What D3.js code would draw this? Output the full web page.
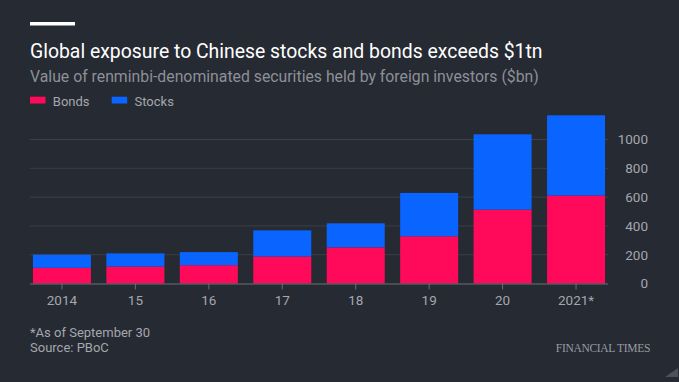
<!DOCTYPE html>
<html>
<head>
<meta charset="utf-8">
<script src="https://cdn.jsdelivr.net/npm/d3@7"></script>
<style>
  body { margin: 0; background: #262a33; }
  svg { display: block; }
</style>
</head>
<body>
<div id="chart"></div>
<script>
// Data ($bn)
const years = ["2014", "15", "16", "17", "18", "19", "20", "2021*"];
const bonds = [109, 118, 127, 188, 251, 328, 513, 611];
const stocks = [91, 91, 91, 181, 167, 301, 523, 557];
const yTicks = [0, 200, 400, 600, 800, 1000];

const width = 679, height = 382;
const bg = "#262a33";
const pink = "#ff0a5a";
const blue = "#0a64ff";
const font = "Roboto, sans-serif";
const grey = "#a4a7ad";

const svg = d3.select("#chart")
    .append("svg")
    .attr("width", width)
    .attr("height", height);

svg.append("rect").attr("width", width).attr("height", height).attr("fill", bg);

// Top rule
svg.append("rect").attr("x", 30).attr("y", 22).attr("width", 45).attr("height", 3.5).attr("fill", "#fff");

// Titles
svg.append("text")
    .attr("x", 30).attr("y", 57.5)
    .attr("fill", "#fff")
    .attr("font-family", font)
    .attr("font-size", 19.4)
    .text("Global exposure to Chinese stocks and bonds exceeds $1tn");

svg.append("text")
    .attr("x", 30).attr("y", 82)
    .attr("fill", "#8d9098")
    .attr("font-family", font)
    .attr("font-size", 15.8)
    .text("Value of renminbi-denominated securities held by foreign investors ($bn)");

// Legend
const legend = [{ name: "Bonds", color: pink, x: 30 }, { name: "Stocks", color: blue, x: 111.7 }];
const lg = svg.append("g").selectAll("g").data(legend).enter().append("g")
    .attr("transform", d => `translate(${d.x},96.7)`);
lg.append("rect").attr("width", 15.5).attr("height", 6.8).attr("fill", d => d.color);
lg.append("text")
    .attr("x", 22.8).attr("y", 9)
    .attr("fill", grey)
    .attr("font-family", font)
    .attr("font-size", 13)
    .text(d => d.name);

// Scales
const x = d3.scaleBand().domain(years).range([30, 608]).paddingInner(0.21).paddingOuter(0.04);
const y = d3.scaleLinear().domain([0, 1000]).range([283.5, 139.5]);

// Gridlines
svg.append("g").selectAll("line").data(yTicks.filter(t => t > 0)).enter().append("line")
    .attr("x1", 30).attr("x2", 608)
    .attr("y1", d => y(d)).attr("y2", d => y(d))
    .attr("stroke", "#3b3f48").attr("stroke-width", 1);

// Stacked bars
const rows = years.map((yr, i) => ({ year: yr, Bonds: bonds[i], Stocks: stocks[i] }));
const series = d3.stack().keys(["Bonds", "Stocks"])(rows);
const color = d3.scaleOrdinal().domain(["Bonds", "Stocks"]).range([pink, blue]);

svg.append("g").selectAll("g").data(series).enter().append("g")
    .attr("fill", d => color(d.key))
    .selectAll("rect").data(d => d).enter().append("rect")
    .attr("x", d => x(d.data.year))
    .attr("width", x.bandwidth())
    .attr("y", d => y(d[1]))
    .attr("height", d => y(d[0]) - y(d[1]));

// Y axis on the right
const yAxis = svg.append("g")
    .attr("transform", "translate(648,0)")
    .call(d3.axisRight(y).tickValues(yTicks).tickFormat(d3.format("d")).tickSize(0).tickPadding(0));
yAxis.select(".domain").remove();
yAxis.selectAll("text")
    .attr("text-anchor", "end")
    .attr("fill", grey)
    .attr("font-family", font)
    .attr("font-size", 13.5);

// X axis
const xAxis = svg.append("g")
    .attr("transform", `translate(0,${y(0)})`)
    .call(d3.axisBottom(x).tickSize(6).tickPadding(6).tickSizeOuter(0));
xAxis.select(".domain").attr("stroke", "#6b6e75").attr("d", "M30,0.5H608");
xAxis.selectAll(".tick line").attr("stroke", "#6b6e75");
xAxis.selectAll("text")
    .attr("fill", grey)
    .attr("font-family", font)
    .attr("font-size", 13.5);

// Footer
svg.append("text")
    .attr("x", 30).attr("y", 337)
    .attr("fill", grey)
    .attr("font-family", font)
    .attr("font-size", 13)
    .text("*As of September 30");
svg.append("text")
    .attr("x", 30).attr("y", 352)
    .attr("fill", grey)
    .attr("font-family", font)
    .attr("font-size", 13)
    .text("Source: PBoC");
svg.append("text")
    .attr("x", 650).attr("y", 352)
    .attr("text-anchor", "end")
    .attr("fill", "#9a9ca2")
    .attr("font-family", "'Liberation Serif', serif")
    .attr("font-size", 11.5)
    .attr("letter-spacing", -0.3)
    .text("FINANCIAL TIMES");

// corner mark
svg.append("path")
    .attr("d", "M678,368L678,377L665,377Z")
    .attr("fill", "#4e5159");
</script>
</body>
</html>
